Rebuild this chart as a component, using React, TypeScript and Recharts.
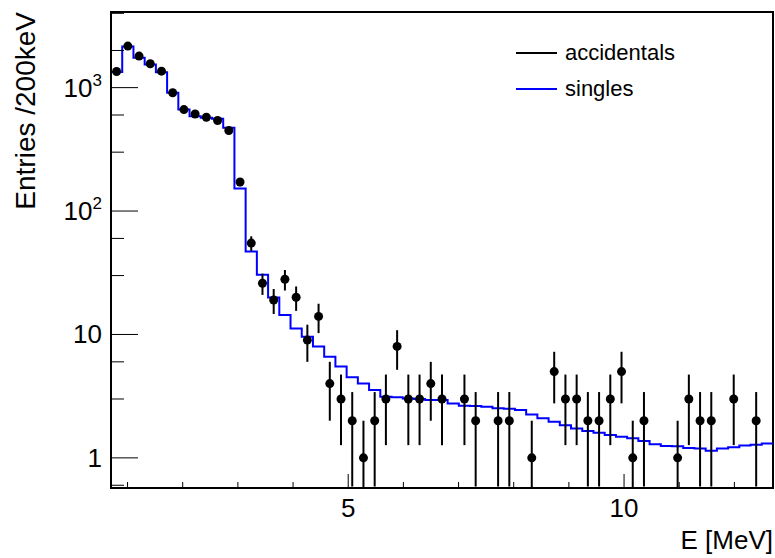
import React from "react";
import { ComposedChart, Line, Scatter, ErrorBar, XAxis, YAxis, ReferenceArea } from "recharts";

// histogram binning (59 bins across the axis range)
const binLow = 0.7;
const binHigh = 12.7;
const nBins = 59;

// accidentals, entries per bin (0 = empty bin, not drawn)
const accidentals = [
  1350, 2170, 1800, 1560, 1360, 908, 664, 612, 575, 541,
  449, 172, 55, 26, 19, 28, 20, 9, 14, 4,
  3, 2, 1, 2, 3, 8, 3, 3, 4, 3,
  0, 3, 2, 0, 2, 2, 0, 1, 0, 5,
  3, 3, 2, 2, 3, 5, 1, 2, 0, 0,
  1, 3, 2, 2, 0, 3, 0, 2, 0,
];

// singles, normalised, per bin
const singles = [
  1340, 2150, 1745, 1540, 1333, 908, 664, 586, 569, 560,
  472, 152, 47, 30.4, 19.9, 14.4, 11.2, 9.6, 8.0, 6.6,
  5.5, 4.5, 4.0, 3.55, 3.13, 3.1, 3.03, 3.0, 2.95, 2.94,
  2.76, 2.65, 2.63, 2.6, 2.52, 2.5, 2.44, 2.25, 2.09, 1.96,
  1.84, 1.73, 1.65, 1.6, 1.53, 1.48, 1.44, 1.37, 1.29, 1.25,
  1.24, 1.2, 1.19, 1.14, 1.19, 1.22, 1.26, 1.28, 1.31,
];

const xTicks = [1, 2, 3, 4, 5, 6, 7, 8, 9, 10, 11, 12];
const xLabelled = [5, 10];
const yTicks = [
  0.6, 0.7, 0.8, 0.9, 1, 2, 3, 4, 5, 6, 7, 8, 9,
  10, 20, 30, 40, 50, 60, 70, 80, 90,
  100, 200, 300, 400, 500, 600, 700, 800, 900,
  1000, 2000, 3000, 4000,
];
const yDecades = [1, 10, 100, 1000];
const yMin = 0.57;
const yMax = 4100;

const FONT = "'Liberation Sans', Arial, Helvetica, sans-serif";

const binWidth = (binHigh - binLow) / nBins;

const stepData = [
  { x: binLow, y: yMin },
  ...singles.map((v, i) => ({ x: binLow + i * binWidth, y: v })),
  { x: binHigh, y: singles[singles.length - 1] },
];

const pointData = accidentals
  .map((v, i) => {
    const e = Math.sqrt(v);
    const lo = Math.max(v - e, yMin);
    return { x: binLow + (i + 0.5) * binWidth, y: v, err: [v - lo, e] };
  })
  .filter((d) => d.y > 0);

function XTick({ x, y, payload }: any) {
  const v = payload.value;
  const major = xLabelled.includes(v);
  return (
    <g>
      <line x1={x} x2={x} y1={y} y2={y - (major ? 14 : 6)} stroke="#000" strokeWidth={1} />
      {major && (
        <text x={x} y={y + 29} textAnchor="middle" fontSize={26} fontFamily={FONT} fill="#000">
          {v}
        </text>
      )}
    </g>
  );
}

function YTick({ x, y, payload }: any) {
  const v = payload.value;
  const major = yDecades.includes(v);
  const exp = Math.round(Math.log10(v));
  return (
    <g>
      <line x1={x} x2={x + (major ? 27 : 13)} y1={y} y2={y} stroke="#000" strokeWidth={1} />
      {major && (
        <text x={x - 9} y={y + 9} textAnchor="end" fontSize={26} fontFamily={FONT} fill="#000">
          {exp >= 2 ? (
            <>
              <tspan>10</tspan>
              <tspan dy={-11} fontSize={17}>{exp}</tspan>
            </>
          ) : (
            String(v)
          )}
        </text>
      )}
    </g>
  );
}

const Dot = (props: any) => <circle cx={props.cx} cy={props.cy} r={4.5} fill="#000" />;

export default function App() {
  return (
    <div style={{ position: "absolute", left: 0, top: 0, width: 775, height: 558, background: "#fff" }}>
      <ComposedChart width={775} height={558} margin={{ top: 12, right: 2, bottom: 0, left: 0 }}>
        <XAxis
          dataKey="x"
          type="number"
          domain={[binLow, binHigh]}
          ticks={xTicks}
          allowDataOverflow
          height={70}
          tickSize={0}
          tickMargin={0}
          tick={<XTick />}
          tickLine={false}
          axisLine={{ stroke: "#000", strokeWidth: 2 }}
          label={({ viewBox }: any) => (
            <text
              x={viewBox.x + viewBox.width}
              y={viewBox.y + 61}
              textAnchor="end"
              fontSize={26}
              fontFamily={FONT}
              fill="#000"
            >
              E [MeV]
            </text>
          )}
        />
        <YAxis
          dataKey="y"
          type="number"
          scale="log"
          domain={[yMin, yMax]}
          ticks={yTicks}
          allowDataOverflow
          width={111}
          tickSize={0}
          tickMargin={0}
          tick={<YTick />}
          tickLine={false}
          axisLine={{ stroke: "#000", strokeWidth: 2 }}
          label={({ viewBox }: any) => (
            <text
              x={35}
              y={viewBox.y}
              transform={`rotate(-90, 35, ${viewBox.y})`}
              textAnchor="end"
              fontSize={28}
              fontFamily={FONT}
              fill="#000"
            >
              Entries /200keV
            </text>
          )}
        />
        <ReferenceArea
          x1={binLow}
          x2={binHigh}
          y1={yMin}
          y2={yMax}
          fill="none"
          stroke="#000"
          strokeWidth={2}
          fillOpacity={0}
        />
        <Line
          data={stepData}
          dataKey="y"
          type="stepAfter"
          stroke="#0000ff"
          strokeWidth={2}
          dot={false}
          activeDot={false}
          isAnimationActive={false}
        />
        <Scatter data={pointData} dataKey="y" shape={<Dot />} isAnimationActive={false}>
          <ErrorBar dataKey="err" direction="y" width={0} stroke="#000" strokeWidth={2} isAnimationActive={false} />
        </Scatter>
      </ComposedChart>
      <div style={{ position: "absolute", left: 516, top: 38, fontFamily: FONT, fontSize: 22, color: "#000" }}>
        <div style={{ display: "flex", alignItems: "center", height: 30 }}>
          <span style={{ display: "inline-block", width: 41, height: 2, background: "#000", marginRight: 8 }} />
          <span>accidentals</span>
        </div>
        <div style={{ display: "flex", alignItems: "center", height: 30, marginTop: 6 }}>
          <span style={{ display: "inline-block", width: 41, height: 2, background: "#0000ff", marginRight: 8 }} />
          <span>singles</span>
        </div>
      </div>
    </div>
  );
}
